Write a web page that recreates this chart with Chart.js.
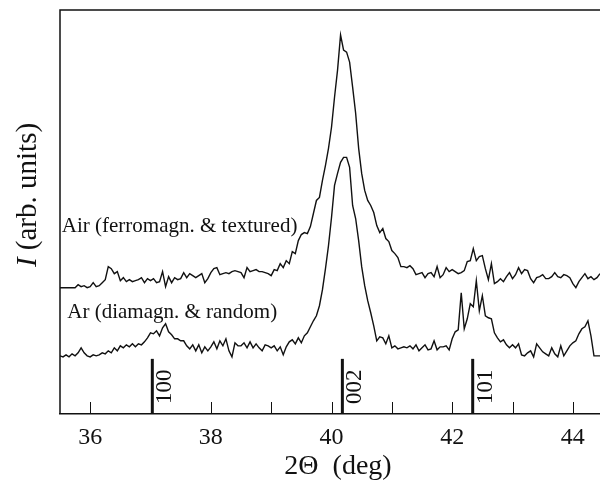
<!DOCTYPE html>
<html>
<head>
<meta charset="utf-8">
<script src="https://cdn.jsdelivr.net/npm/chart.js@4/dist/chart.umd.min.js"></script>
<style>
  html, body { margin: 0; padding: 0; background: #fff; }
  #wrap { width: 600px; height: 480px; }
</style>
</head>
<body>
<div id="wrap"><canvas id="xrd"></canvas></div>
<script>
// ── Data ──────────────────────────────────────────────────────────────────────
const twoTheta = [
  35.50,35.55,35.60,35.65,35.70,35.75,35.80,35.85,35.90,35.95,
  36.00,36.05,36.10,36.15,36.20,36.25,36.30,36.35,36.40,36.45,
  36.50,36.55,36.60,36.65,36.70,36.75,36.80,36.85,36.90,36.95,
  37.00,37.05,37.10,37.15,37.20,37.25,37.30,37.35,37.40,37.45,
  37.50,37.55,37.60,37.65,37.70,37.75,37.80,37.85,37.90,37.95,
  38.00,38.05,38.10,38.15,38.20,38.25,38.30,38.35,38.40,38.45,
  38.50,38.55,38.60,38.65,38.70,38.75,38.80,38.85,38.90,38.95,
  39.00,39.05,39.10,39.15,39.20,39.25,39.30,39.35,39.40,39.45,
  39.50,39.55,39.60,39.65,39.70,39.75,39.80,39.85,39.90,39.95,
  40.00,40.05,40.10,40.15,40.20,40.25,40.30,40.35,40.40,40.45,
  40.50,40.55,40.60,40.65,40.70,40.75,40.80,40.85,40.90,40.95,
  41.00,41.05,41.10,41.15,41.20,41.25,41.30,41.35,41.40,41.45,
  41.50,41.55,41.60,41.65,41.70,41.75,41.80,41.85,41.90,41.95,
  42.00,42.05,42.10,42.15,42.20,42.25,42.30,42.35,42.40,42.45,
  42.50,42.55,42.60,42.65,42.70,42.75,42.80,42.85,42.90,42.95,
  43.00,43.05,43.10,43.15,43.20,43.25,43.30,43.35,43.40,43.45,
  43.50,43.55,43.60,43.65,43.70,43.75,43.80,43.85,43.90,43.95,
  44.00,44.05,44.10,44.15,44.20,44.25,44.30,44.35,44.40,44.45
];

// Air-annealed sample (ferromagnetic & textured), arb. units
const airI = [
  126,126,126,126,126,126,129,127,128,126,
  127,131,127,128,131,134,147,145,140,142,
  133,136,132,134,132,133,134,136,131,135,
  133,135,131,132,142,127,137,131,136,134,
  135,141,136,140,138,136,138,140,131,135,
  141,145,146,139,140,141,140,142,143,142,
  141,136,146,142,143,144,142,142,141,140,
  138,144,143,150,146,153,150,162,160,173,
  179,181,180,187,200,213,216,233,248,265,
  286,316,343,378,363,361,351,326,300,265,
  240,223,213,208,201,188,181,185,175,172,
  163,160,156,147,147,146,148,145,139,140,
  141,136,140,141,137,147,136,139,146,142,
  144,142,140,141,143,152,153,165,153,157,
  158,145,134,150,130,132,135,132,137,141,
  135,139,146,140,144,143,135,131,136,137,
  139,135,135,137,141,137,136,139,138,136,
  130,126,132,136,140,135,137,134,136,140
];

// Ar-annealed sample (diamagnetic & random), arb. units
const arI = [
  58,57,59,57,60,58,61,66,61,58,
  57,59,58,59,61,60,63,61,66,63,
  68,66,69,67,70,67,70,69,72,76,
  81,80,83,78,86,90,82,79,75,75,
  73,73,68,65,69,63,69,61,67,63,
  67,72,65,73,68,75,63,57,71,68,
  68,71,66,72,66,70,66,63,69,68,
  66,68,63,67,59,67,72,74,70,76,
  71,78,81,87,93,98,108,124,145,168,
  196,228,240,251,256,256,246,208,195,173,
  147,128,113,101,88,73,77,76,70,78,
  66,68,65,66,67,66,68,65,69,63,
  66,69,64,65,73,64,67,67,68,64,
  75,82,84,121,85,95,110,107,133,103,
  118,98,96,95,81,76,72,74,69,66,
  69,66,70,59,58,61,63,57,70,66,
  62,60,58,66,60,57,68,58,63,68,
  71,73,80,85,87,93,78,58,58,58
];

// Reference reflections (hkl) of the hexagonal phase
const reflexPos    = [37.03, 40.18, 42.34];
const reflexHkl    = ['100', '002', '101'];
const reflexHeight = [55, 55, 55];

const majorTicks = [36, 38, 40, 42, 44];
const minorTicks = [37, 39, 41, 43];

const seriesText = ['Air (ferromagn. & textured)', 'Ar (diamagn. & random)'];
const seriesTextAt = [{ x: 35.53, y: 187 }, { x: 35.62, y: 101 }];

// ── Style ─────────────────────────────────────────────────────────────────────
const SERIF = "'Liberation Serif', 'DejaVu Serif', serif";
const INK   = '#111';

// ── Plugin: frame, inward ticks, text ─────────────────────────────────────────
const decorations = {
    id: 'decorations',
    afterDraw(chart) {
        const { ctx, chartArea: a, scales: { x, y } } = chart;
        ctx.save();
        ctx.strokeStyle = INK;
        ctx.lineWidth = 1.5;
        ctx.beginPath();
        ctx.moveTo(a.right + 5, a.top); ctx.lineTo(a.left, a.top); ctx.lineTo(a.left, a.bottom);
        ctx.stroke();

        // inward tick marks
        ctx.lineWidth = 1;
        [...majorTicks, ...minorTicks].forEach(v => {
            const px = Math.round(x.getPixelForValue(v)) + 0.5;
            ctx.beginPath();
            ctx.moveTo(px, a.bottom); ctx.lineTo(px, a.bottom - 12);
            ctx.stroke();
        });

        // hkl labels
        ctx.fillStyle = INK;
        ctx.font = `23px ${SERIF}`;
        ctx.textAlign = 'left';
        ctx.textBaseline = 'middle';
        reflexPos.forEach((v, i) => {
            ctx.save();
            ctx.translate(x.getPixelForValue(v) + 13, a.bottom - 10);
            ctx.rotate(-Math.PI / 2);
            ctx.fillText(reflexHkl[i], 0, 0);
            ctx.restore();
        });

        // series labels
        ctx.font = `21px ${SERIF}`;
        seriesText.forEach((t, i) => {
            ctx.fillText(t, x.getPixelForValue(seriesTextAt[i].x), y.getPixelForValue(seriesTextAt[i].y));
        });

        // x axis title
        ctx.font = `28px ${SERIF}`;
        ctx.textAlign = 'center';
        ctx.fillText('2Θ  (deg)', 338, 467);

        // y axis title: italic I + (arb. units)
        ctx.save();
        ctx.translate(28, 195);
        ctx.rotate(-Math.PI / 2);
        ctx.textAlign = 'left';
        const fItal = `italic 29px ${SERIF}`, fReg = `29px ${SERIF}`;
        ctx.font = fItal; const w1 = ctx.measureText('I').width;
        ctx.font = fReg;  const w2 = ctx.measureText(' (arb. units)').width;
        const sx = -(w1 + w2) / 2;
        ctx.font = fItal; ctx.fillText('I', sx, 0);
        ctx.font = fReg;  ctx.fillText(' (arb. units)', sx + w1, 0);
        ctx.restore();

        ctx.restore();
    }
};

// ── Chart ─────────────────────────────────────────────────────────────────────
const reflexSets = reflexPos.map((v, i) => ({
    label: reflexHkl[i],
    data: [{ x: v, y: 0 }, { x: v, y: reflexHeight[i] }],
    borderColor: INK,
    borderWidth: 3,
    borderCapStyle: 'butt',
    pointRadius: 0
}));

new Chart(document.getElementById('xrd'), {
    type: 'line',
    data: {
        labels: twoTheta,
        datasets: [
            { label: 'Air', data: airI, borderColor: INK, borderWidth: 1.4, pointRadius: 0, tension: 0 },
            { label: 'Ar',  data: arI,  borderColor: INK, borderWidth: 1.4, pointRadius: 0, tension: 0 },
            ...reflexSets
        ]
    },
    options: {
        responsive: true,
        maintainAspectRatio: false,
        animation: false,
        layout: { padding: { left: 60, right: 0, top: 10, bottom: 18 } },
        plugins: { legend: { display: false }, tooltip: { enabled: false } },
        scales: {
            x: {
                type: 'linear',
                min: 35.5,
                max: 44.45,
                afterBuildTicks: s => { s.ticks = majorTicks.map(v => ({ value: v })); },
                grid: { drawOnChartArea: false, drawTicks: false },
                border: { display: true, color: INK, width: 1.5 },
                ticks: { color: INK, padding: 12, font: { family: SERIF, size: 24, lineHeight: 1 } }
            },
            y: { display: false, min: 0, max: 403 }
        }
    },
    plugins: [decorations]
});
</script>
</body>
</html>
